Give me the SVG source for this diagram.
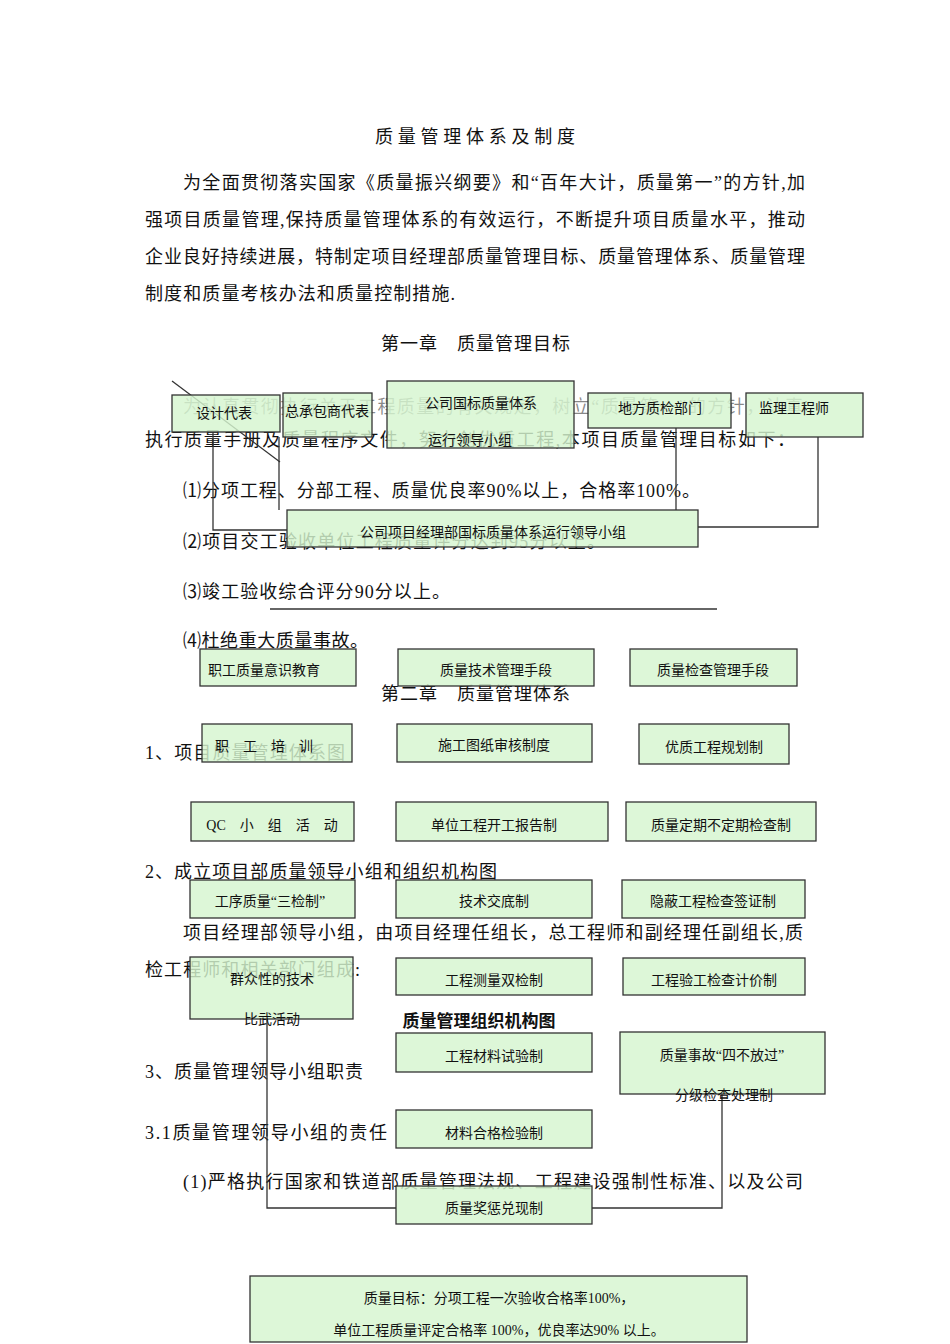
<svg xmlns="http://www.w3.org/2000/svg" width="950" height="1344" viewBox="0 0 950 1344">
<style>
.t{font-family:"Liberation Serif","Noto Sans CJK SC",serif;font-size:18px;fill:#111}
.b rect{fill:#d6f5cf;fill-opacity:0.82;stroke:#333;stroke-width:1.3}
.b text{font-family:"Liberation Serif","Noto Sans CJK SC",sans-serif;font-size:14px;fill:#111;text-anchor:middle}
.c path{fill:none;stroke:#333;stroke-width:1.3}
</style>
<rect width="950" height="1344" fill="#fff"/>
<g id="body">
<text class="t" x="375" y="143" font-size="20" textLength="200">质量管理体系及制度</text>
<text class="t" x="183" y="189" textLength="622">为全面贯彻落实国家《质量振兴纲要》和“百年大计，质量第一”的方针,加</text>
<text class="t" x="145" y="226" textLength="660">强项目质量管理,保持质量管理体系的有效运行，不断提升项目质量水平，推动</text>
<text class="t" x="145" y="263" textLength="660">企业良好持续进展，特制定项目经理部质量管理目标、质量管理体系、质量管理</text>
<text class="t" x="145" y="300" textLength="310">制度和质量考核办法和质量控制措施.</text>
<text class="t" x="381" y="350" textLength="189">第一章　质量管理目标</text>
<text class="t" x="183" y="413" fill-opacity="0.5" textLength="620">为认真贯彻执行关于工程质量的有关规定，树立“质量第一”的方针，认真</text>
<text class="t" x="145" y="446" textLength="650">执行质量手册及质量程序文件，努力创优质工程,本项目质量管理目标如下：</text>
<text class="t" x="183" y="497" textLength="517">⑴分项工程、分部工程、质量优良率90%以上，合格率100%。</text>
<text class="t" x="183" y="548" textLength="422">⑵项目交工验收单位工程质量评分达到95分以上。</text>
<text class="t" x="183" y="598" textLength="267">⑶竣工验收综合评分90分以上。</text>
<text class="t" x="183" y="647" textLength="185">⑷杜绝重大质量事故。</text>
<text class="t" x="381" y="700" textLength="189">第二章　质量管理体系</text>
<text class="t" x="145" y="759" textLength="200">1、项目质量管理体系图</text>
<text class="t" x="145" y="878" textLength="352">2、成立项目部质量领导小组和组织机构图</text>
<text class="t" x="183" y="939" textLength="620">项目经理部领导小组，由项目经理任组长，总工程师和副经理任副组长,质</text>
<text class="t" x="145" y="976" textLength="215">检工程师和相关部门组成:</text>
<text class="t" x="145" y="1078" textLength="218">3、质量管理领导小组职责</text>
<text class="t" x="145" y="1139" textLength="242">3.1质量管理领导小组的责任</text>
<text class="t" x="183" y="1188" textLength="620">(1)严格执行国家和铁道部质量管理法规、工程建设强制性标准、以及公司</text>
<text x="479" y="1027" text-anchor="middle" font-family="Liberation Sans,Noto Sans CJK SC,sans-serif" font-size="17" font-weight="bold" fill="#111">质量管理组织机构图</text>
</g>
<g class="c" id="connectors">
<path d="M213 432V530H287"/>
<path d="M279 437V510"/>
<path d="M676 428V510"/>
<path d="M818 437V527H698"/>
<path d="M172 381L280 462"/>
<path d="M270 609H717"/>
<path d="M267 1019V1208H396"/>
<path d="M592 1208H722V1094"/>
</g>
<g class="b" id="n1"><rect x="172" y="395" width="108" height="37"/><text x="224" y="418">设计代表</text></g>
<g class="b" id="n2"><rect x="283" y="393" width="89" height="44"/><text x="327" y="416">总承包商代表</text></g>
<g class="b" id="n3"><rect x="387" y="381" width="187" height="67"/><text x="481" y="408">公司国标质量体系</text><text x="470" y="445">运行领导小组</text></g>
<g class="b" id="n4"><rect x="588" y="393" width="143" height="35"/><text x="660" y="413">地方质检部门</text></g>
<g class="b" id="n5"><rect x="746" y="393" width="117" height="44"/><text x="794" y="413">监理工程师</text></g>
<g class="b" id="n6"><rect x="287" y="510" width="411" height="37"/><text x="493" y="537">公司项目经理部国标质量体系运行领导小组</text></g>
<g class="b" id="n7"><rect x="200" y="649" width="156" height="37"/><text x="264" y="675">职工质量意识教育</text></g>
<g class="b" id="n8"><rect x="398" y="649" width="196" height="37"/><text x="496" y="675">质量技术管理手段</text></g>
<g class="b" id="n9"><rect x="630" y="649" width="167" height="37"/><text x="713" y="675">质量检查管理手段</text></g>
<g class="b" id="n10"><rect x="202" y="724" width="150" height="38"/><text x="264" y="751" xml:space="preserve">职　工　培　训</text></g>
<g class="b" id="n11"><rect x="397" y="724" width="195" height="38"/><text x="494" y="750" font-size="16">施工图纸审核制度</text></g>
<g class="b" id="n12"><rect x="639" y="724" width="150" height="40"/><text x="714" y="752">优质工程规划制</text></g>
<g class="b" id="n13"><rect x="191" y="802" width="163" height="39"/><text x="272" y="830">QC　小　组　活　动</text></g>
<g class="b" id="n14"><rect x="396" y="802" width="212" height="39"/><text x="494" y="830">单位工程开工报告制</text></g>
<g class="b" id="n15"><rect x="626" y="802" width="190" height="39"/><text x="721" y="830">质量定期不定期检查制</text></g>
<g class="b" id="n16"><rect x="190" y="880" width="165" height="38"/><text x="270" y="906">工序质量“三检制”</text></g>
<g class="b" id="n17"><rect x="396" y="880" width="196" height="38"/><text x="494" y="906">技术交底制</text></g>
<g class="b" id="n18"><rect x="622" y="880" width="183" height="38"/><text x="713" y="906">隐蔽工程检查签证制</text></g>
<g class="b" id="n19"><rect x="190" y="957" width="163" height="62"/><text x="272" y="984">群众性的技术</text><text x="272" y="1024">比武活动</text></g>
<g class="b" id="n20"><rect x="396" y="958" width="196" height="37"/><text x="494" y="985">工程测量双检制</text></g>
<g class="b" id="n21"><rect x="623" y="958" width="182" height="37"/><text x="714" y="985">工程验工检查计价制</text></g>
<g class="b" id="n22"><rect x="396" y="1033" width="196" height="39"/><text x="494" y="1061">工程材料试验制</text></g>
<g class="b" id="n23"><rect x="620" y="1032" width="205" height="62"/><text x="722" y="1060">质量事故“四不放过”</text><text x="724" y="1100">分级检查处理制</text></g>
<g class="b" id="n24"><rect x="396" y="1110" width="196" height="38"/><text x="494" y="1138">材料合格检验制</text></g>
<g class="b" id="n25"><rect x="396" y="1186" width="196" height="38"/><text x="494" y="1213">质量奖惩兑现制</text></g>
<g class="b" id="n26"><rect x="250" y="1276" width="497" height="66"/><text x="499" y="1303" font-size="15">质量目标：分项工程一次验收合格率100%，</text><text x="499" y="1335" font-size="15">单位工程质量评定合格率 100%，优良率达90% 以上。</text></g>
</svg>
